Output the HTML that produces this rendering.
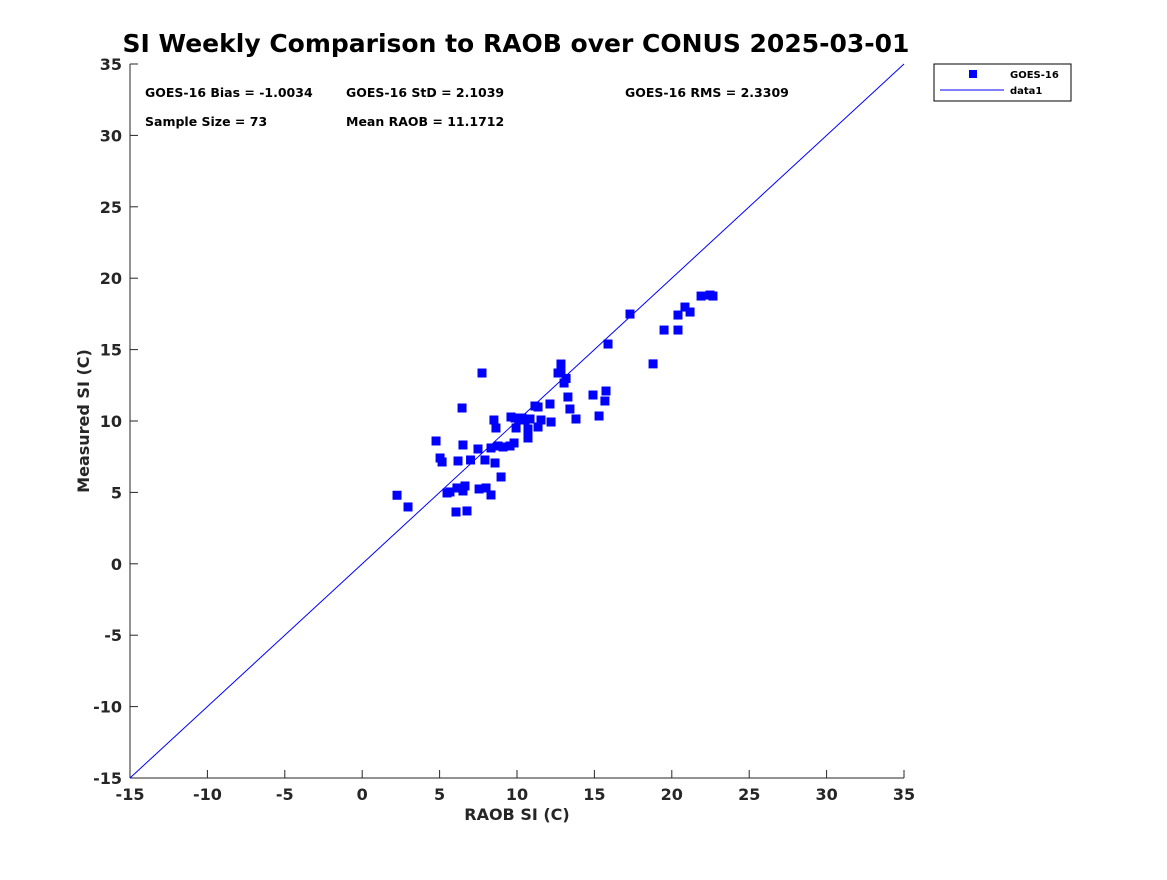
<!DOCTYPE html>
<html><head><meta charset="utf-8"><style>
body{margin:0;background:#fff;width:1167px;height:875px;overflow:hidden;font-family:"Liberation Sans",sans-serif}
svg text{font-family:"DejaVu Sans","Liberation Sans",sans-serif}
</style></head><body>
<svg id="chart" width="1167" height="875" xmlns="http://www.w3.org/2000/svg">
<text x="516" y="52" text-anchor="middle" font-size="25" font-weight="bold" fill="#000">SI Weekly Comparison to RAOB over CONUS 2025-03-01</text>
<rect x="130" y="64" width="774" height="714" fill="#fff"/>
<g id="axes"></g>
<g id="marks"></g>
<g font-size="12.5" font-weight="bold" fill="#000">
<text x="145" y="97">GOES-16 Bias = -1.0034</text>
<text x="346" y="97">GOES-16 StD = 2.1039</text>
<text x="625" y="97">GOES-16 RMS = 2.3309</text>
<text x="145" y="126">Sample Size = 73</text>
<text x="346" y="126">Mean RAOB = 11.1712</text>
</g>
<g>
<rect x="934" y="64" width="137" height="37" fill="#fff" stroke="#000" stroke-width="1"/>
<rect x="969" y="70" width="8" height="8" fill="#0000ff"/>
<text x="1010" y="78" font-size="10" font-weight="bold">GOES-16</text>
<line x1="940" y1="90" x2="1004" y2="90" stroke="#0000ff" stroke-width="1"/>
<text x="1010" y="94" font-size="10" font-weight="bold">data1</text>
</g>
<text x="517" y="820" text-anchor="middle" font-size="16" font-weight="bold" fill="#262626">RAOB SI (C)</text>
<text transform="translate(89,421) rotate(-90)" text-anchor="middle" font-size="16" font-weight="bold" fill="#262626">Measured SI (C)</text>
</svg>
<script>
const xTicks=[-15,-10,-5,0,5,10,15,20,25,30,35];
const yTicks=[-15,-10,-5,0,5,10,15,20,25,30,35];
const raob=[2.25,2.96,4.77,5.03,5.16,5.48,5.67,6.06,6.12,6.19,6.45,6.51,6.51,6.64,6.77,7.0,7.48,7.55,7.74,7.93,8.0,8.32,8.32,8.51,8.58,8.64,8.77,8.97,9.1,9.55,9.61,9.81,9.87,9.94,10.06,10.19,10.32,10.52,10.71,10.71,10.84,11.16,11.36,11.36,11.55,12.13,12.2,12.65,12.84,12.84,13.04,13.17,13.29,13.42,13.81,14.91,15.3,15.68,15.75,15.88,17.3,18.79,19.5,20.4,20.4,20.85,21.18,21.89,22.47,22.66];
const measured=[4.8,3.98,8.6,7.41,7.13,4.96,5.03,3.63,5.31,7.2,10.91,8.32,5.1,5.45,3.7,7.27,8.04,5.24,13.36,7.27,5.31,8.11,4.82,10.07,7.06,9.51,8.25,6.08,8.18,8.25,10.28,8.46,10.21,9.51,10.21,10.14,10.21,10.07,8.81,9.44,10.14,11.05,10.98,9.58,10.07,11.19,9.93,13.36,13.99,13.36,12.66,12.98,11.68,10.84,10.14,11.82,10.35,11.4,12.1,15.39,17.49,14.0,16.37,16.37,17.42,17.98,17.63,18.75,18.82,18.75];
const oneToOne=[-15,35];
const X=v=>130+(v+15)*774/50, Y=v=>778-(v+15)*714/50;
const NS="http://www.w3.org/2000/svg";
const axes=document.getElementById('axes'), marks=document.getElementById('marks');
function mk(t,a,p){const e=document.createElementNS(NS,t);for(const k in a)e.setAttribute(k,a[k]);p.appendChild(e);return e;}
const xa=mk('line',{x1:130,y1:778,x2:904,y2:778,stroke:'#262626'},axes);


const ya=mk('line',{x1:130,y1:64,x2:130,y2:778,stroke:'#262626'},axes);


xTicks.forEach(v=>{
 const t=mk('line',{x1:X(v),y1:778,x2:X(v),y2:770,stroke:'#262626'},axes);
 
 
 const l=mk('text',{x:X(v),y:800,'text-anchor':'middle','font-size':16,'font-weight':'bold',fill:'#262626'},axes);
 l.textContent=v;
 
 
});
yTicks.forEach(v=>{
 const t=mk('line',{x1:130,y1:Y(v),x2:138,y2:Y(v),stroke:'#262626'},axes);
 
 
 const l=mk('text',{x:122,y:Y(v)+6,'text-anchor':'end','font-size':16,'font-weight':'bold',fill:'#262626'},axes);
 l.textContent=v;
 
 
});
const ln=mk('line',{x1:X(oneToOne[0]),y1:Y(oneToOne[0]),x2:X(oneToOne[1]),y2:Y(oneToOne[1]),stroke:'#0000ff','stroke-width':1},marks);


raob.forEach((v,i)=>{
 const r=mk('rect',{x:X(v)-4.5,y:Y(measured[i])-4.5,width:9,height:9,fill:'#0000ff'},marks);
 
 
});
</script>
</body></html>
